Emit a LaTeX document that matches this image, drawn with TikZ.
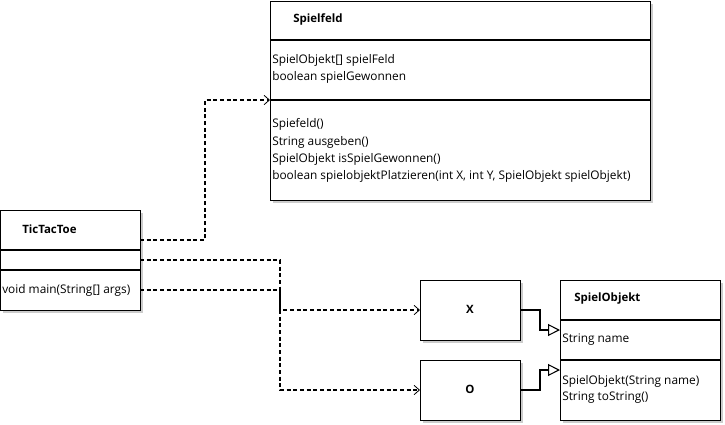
\documentclass[tikz,border=0pt]{standalone}
\usepackage{fontspec}
\setmainfont{Open Sans}
\usetikzlibrary{arrows.meta}
\begin{document}
\begin{tikzpicture}[x=0.75pt,y=-0.75pt,
  box/.style={draw=black,fill=white,line width=0.8pt},
  shadow/.style={fill=black!20,draw=none},
  sep/.style={draw=black,line width=0.8pt},
  txt/.style={anchor=west,inner sep=0pt,font=\fontsize{8.9}{10}\selectfont},
  btxt/.style={anchor=west,inner sep=0pt,font=\fontsize{8.6}{10}\selectfont\bfseries},
  ctxt/.style={inner sep=0pt,font=\fontsize{8.6}{10}\selectfont\bfseries},
  dep/.style={draw=black,line width=0.8pt,dash pattern=on 3pt off 2pt,-{Straight Barb[length=4pt,width=7pt,line width=0.6pt]}},
  inh/.style={draw=black,line width=0.8pt,-{Triangle[open,length=9pt,width=9pt,fill=white]}}
]
\useasboundingbox (0,0) rectangle (725,425);
% shadows
\fill[shadow] (273,4) rectangle (653,203);
\fill[shadow] (3,213) rectangle (143,313);
\fill[shadow] (423,283) rectangle (523,343);
\fill[shadow] (423,363) rectangle (523,423);
\fill[shadow] (563,283) rectangle (723,423);
% Spielfeld
\node[box,minimum width=380*0.75pt,minimum height=199*0.75pt,anchor=north west,inner sep=0pt] (sf) at (270,1) {};
\draw[sep] (270,40) -- (650,40);
\draw[sep] (270,100) -- (650,100);
\node[btxt] (sft) at (293,19) {Spielfeld};
\node[txt] (sfa1) at (272,60) {SpielObjekt[] spielFeld};
\node[txt] (sfa2) at (272,77) {boolean spielGewonnen};
\node[txt] (sfm1) at (272,124) {Spiefeld()};
\node[txt] (sfm2) at (272,142) {String ausgeben()};
\node[txt] (sfm3) at (272,159) {SpielObjekt isSpielGewonnen()};
\node[txt] (sfm4) at (272,176) {boolean spielobjektPlatzieren(int X, int Y, SpielObjekt spielObjekt)};
% TicTacToe
\node[box,minimum width=140*0.75pt,minimum height=100*0.75pt,anchor=north west,inner sep=0pt] (ttt) at (0,210) {};
\draw[sep] (0,250) -- (140,250);
\draw[sep] (0,270) -- (140,270);
\node[btxt] (tttt) at (22,229) {TicTacToe};
\node[txt] (tttm) at (2,290) {void main(String[] args)};
% X
\node[box,minimum width=100*0.75pt,minimum height=60*0.75pt,anchor=north west,inner sep=0pt] (x) at (420,280) {};
\node[ctxt] (xt) at (470,309) {X};
% O
\node[box,minimum width=100*0.75pt,minimum height=60*0.75pt,anchor=north west,inner sep=0pt] (o) at (420,360) {};
\node[ctxt] (ot) at (470,389) {O};
% SpielObjekt
\node[box,minimum width=160*0.75pt,minimum height=140*0.75pt,anchor=north west,inner sep=0pt] (so) at (560,280) {};
\draw[sep] (560,320) -- (720,320);
\draw[sep] (560,360) -- (720,360);
\node[btxt] (sot) at (574,299) {SpielObjekt};
\node[txt] (soa) at (562,340) {String name};
\node[txt] (som1) at (562,381) {SpielObjekt(String name)};
\node[txt] (som2) at (562,398) {String toString()};
% connectors
\coordinate (c1s) at (140,240);
\coordinate (c1e) at (270,100);
\draw[dep] (c1s) -- (205,240) -- (205,100) -- (c1e);
\coordinate (c2s) at (140,260);
\coordinate (c2e) at (420,310);
\draw[dep] (c2s) -- (280,260) -- (280,310) -- (c2e);
\coordinate (c3s) at (140,290);
\coordinate (c3e) at (420,390);
\draw[dep] (c3s) -- (280,290) -- (280,390) -- (c3e);
\coordinate (c4s) at (520,310);
\coordinate (c4e) at (560,330);
\draw[inh] (c4s) -- (540,310) -- (540,330) -- (c4e);
\coordinate (c5s) at (520,390);
\coordinate (c5e) at (560,370);
\draw[inh] (c5s) -- (540,390) -- (540,370) -- (c5e);
\end{tikzpicture}
\end{document}
